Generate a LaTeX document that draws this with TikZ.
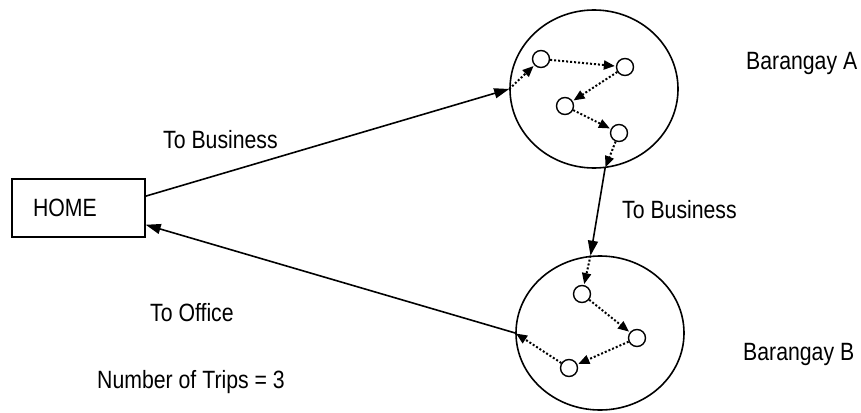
\documentclass[tikz,border=0pt]{standalone}
\usepackage{fontspec}
\setmainfont{Liberation Sans}[FakeStretch=0.85]
\usetikzlibrary{arrows.meta,shapes.geometric}
\begin{document}
\begin{tikzpicture}[x=1pt,y=-1pt,
  zone/.style={draw,ellipse,line width=1.6pt,inner sep=0pt},
  stop/.style={draw,circle,line width=1.4pt,minimum size=17pt,inner sep=0pt,fill=white},
  route/.style={line width=1.6pt,-{Triangle[length=15pt,width=10pt]}},
  hop/.style={line width=2pt,dash pattern=on 2pt off 2pt,shorten >=1pt,-{Triangle[length=11pt,width=9pt]}},
  lbl/.style={anchor=base west,inner sep=0pt,font=\fontsize{25}{29}\selectfont}]
\useasboundingbox (0,0) rectangle (861,412);

% home box
\node[draw,line width=1.4pt,minimum width=133pt,minimum height=58pt,
      inner xsep=21pt,text width=91pt,align=left,
      font=\fontsize{25}{29}\selectfont] (home) at (78.5,208) {HOME};

% barangay zones
\node[zone,minimum width=168pt,minimum height=158pt] (A) at (594,89) {};
\node[zone,minimum width=168pt,minimum height=154pt] (B) at (600,333) {};

% stops inside Barangay A
\node[stop] (a1) at (541,59) {};
\node[stop] (a2) at (625,67) {};
\node[stop] (a3) at (565,106) {};
\node[stop] (a4) at (619,133) {};

% stops inside Barangay B
\node[stop] (b1) at (582,294) {};
\node[stop] (b2) at (637,338) {};
\node[stop] (b3) at (569,368) {};

% trips between zones
\draw[route] (home.10) -- (A.west);
\draw[route] (A.-82) -- (B.97);
\draw[route] (B.west) -- (home.-14);

% walking within Barangay A
\draw[hop] (A.west) -- (a1);
\draw[hop] (a1) -- (a2);
\draw[hop] (a2) -- (a3);
\draw[hop] (a3) -- (a4);
\draw[hop] (a4) -- (A.-82);

% walking within Barangay B
\draw[hop] (B.97) -- (b1);
\draw[hop] (b1) -- (b2);
\draw[hop] (b2) -- (b3);
\draw[hop] (b3) -- (B.west);

% labels
\node[lbl] (l1) at (163,148) {To Business};
\node[lbl] (l2) at (622,218) {To Business};
\node[lbl] (l3) at (746,70) {Barangay A};
\node[lbl] (l4) at (743,360) {Barangay B};
\node[lbl] (l5) at (150,321) {To Office};
\node[lbl] (l6) at (97,388) {Number of Trips = 3};
\end{tikzpicture}
\end{document}
